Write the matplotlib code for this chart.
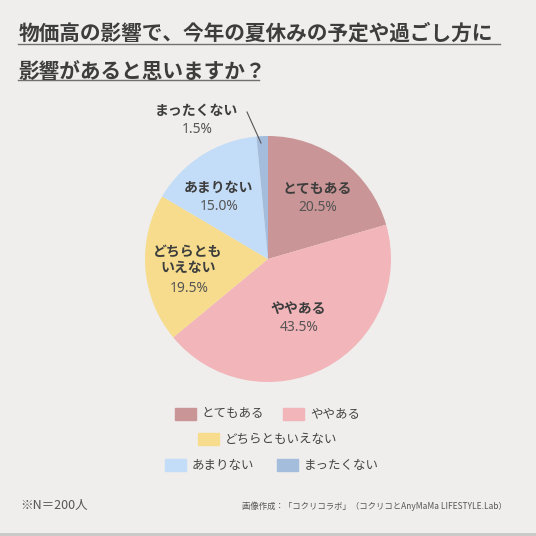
import matplotlib
matplotlib.use('Agg')
import matplotlib.pyplot as plt
import matplotlib.patches as mpatches
from matplotlib.lines import Line2D

plt.rcParams['font.family'] = ['Noto Sans CJK JP', 'DejaVu Sans']

W = H = 536

TITLE_LINES = ['物価高の影響で、今年の夏休みの予定や過ごし方に', '影響があると思いますか？']
CATEGORIES = ['とてもある', 'ややある', 'どちらともいえない', 'あまりない', 'まったくない']
VALUES = [20.5, 43.5, 19.5, 15.0, 1.5]
SLICE_LABELS = ['とてもある', 'ややある', 'どちらとも\nいえない', 'あまりない', 'まったくない']
COLORS = ['#c99596', '#f2b5b9', '#f6dc8c', '#c3dcf7', '#a5bddd']
NOTE = '※N＝200人'
SOURCE = '画像作成：「コクリコラボ」（コクリコとAnyMaMa LIFESTYLE.Lab）'

BG = '#efeeec'
TXT = '#3d3d3d'


def fx(px):
    return px / W


def fy(py):
    return 1 - py / H


fig = plt.figure(figsize=(W / 100, H / 100), dpi=100, facecolor=BG)

# title with underlines
fig.text(fx(19), fy(33), TITLE_LINES[0], fontsize=14.9, fontweight='bold', color=TXT, va='center', ha='left')
fig.add_artist(Line2D([fx(18), fx(500)], [fy(44), fy(44)], color='#707070', lw=1))
fig.text(fx(19), fy(71), TITLE_LINES[1], fontsize=14.9, fontweight='bold', color=TXT, va='center', ha='left')
fig.add_artist(Line2D([fx(18), fx(259)], [fy(80), fy(80)], color='#707070', lw=1))

# pie
cx, cy, r = 268, 259, 123
ax = fig.add_axes([fx(cx - r), fy(cy + r), (2 * r) / W, (2 * r) / H])
ax.pie(VALUES, colors=COLORS, startangle=90, counterclock=False,
       wedgeprops=dict(linewidth=0))
ax.set_xlim(-1, 1)
ax.set_ylim(-1, 1)
ax.set_aspect('equal')
ax.axis('off')

# labels on slices (pixel positions of label centres)
label_pos = [(317, 189), (298, 309), (188, 260), (218, 188), (196, 111)]
for i, (name, val) in enumerate(zip(SLICE_LABELS, VALUES)):
    x, y = label_pos[i]
    n_lines = name.count('\n') + 1
    fig.text(fx(x), fy(y), name, fontsize=10, fontweight='bold', color=TXT,
             ha='center', va='center', linespacing=1.15)
    fig.text(fx(x + 1), fy(y + 9.5 * n_lines + 9), f'{val:.1f}%', fontsize=10,
             family='Noto Sans', color='#555555', ha='center', va='center')

# leader line for the small slice
fig.add_artist(Line2D([fx(247), fx(261)], [fy(112), fy(143)], color='#555555', lw=0.8))

# legend
legend_rows = [
    [(0, 175), (1, 283)],
    [(2, 198)],
    [(3, 165), (4, 277)],
]
row_y = [414, 439, 465]
for row, y in zip(legend_rows, row_y):
    for idx, x in row:
        fig.add_artist(mpatches.Rectangle((fx(x), fy(y + 6)), fx(21), 12 / H,
                                          color=COLORS[idx], transform=fig.transFigure))
        fig.text(fx(x + 27), fy(y), CATEGORIES[idx], fontsize=9, color='#444444',
                 ha='left', va='center')

# footer
fig.text(fx(20), fy(505), NOTE, fontsize=9, color='#555555', ha='left', va='center')
fig.text(fx(507), fy(506), SOURCE, fontsize=6.0, color='#555555', ha='right', va='center')
fig.add_artist(Line2D([0, 1], [fy(534), fy(534)], color='#c8c8c8', lw=2))

fig.savefig('out.png', dpi=100, facecolor=BG)
